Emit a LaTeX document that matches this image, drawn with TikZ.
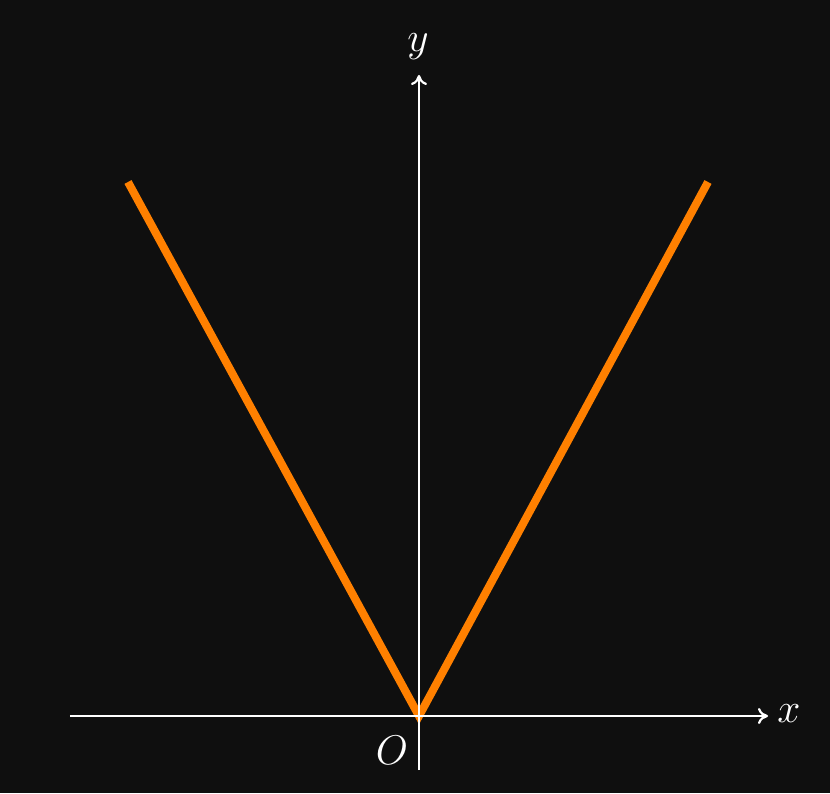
\documentclass[tikz,border=0pt]{standalone}
\usepackage{xcolor}
\definecolor{qbg}{HTML}{0F0F0F}
\definecolor{qorange}{HTML}{FF8000}
\usepackage{tikz}
\usetikzlibrary{arrows.meta,positioning}

\begin{document}
\begin{tikzpicture}[
  x=0.5pt,y=0.5pt,
  font=\fontsize{22}{26}\selectfont,
  axis/.style={draw=white,line width=1.1pt,-{To[length=5pt,width=8pt]}},
  graph/.style={draw=qorange,line width=4pt},
  lbl/.style={text=white,inner sep=0pt}
]
\fill[qbg] (-419,-77) rectangle (411,716);
\useasboundingbox (-419,-77) rectangle (411,716);
\coordinate (O) at (0,0);
\coordinate (left) at (-291,534);
\coordinate (right) at (289,534);
\coordinate (xs) at (-349,0);
\coordinate (xe) at (349,0);
\coordinate (ys) at (0,-54);
\coordinate (ye) at (0,641);
% graph
\draw[graph] (left) -- (O) -- (right);
% axes
\draw[axis] (xs) -- (xe);
\draw[axis] (ys) -- (ye);
\node[lbl] (xlbl) at (370,2) {$x$};
\node[lbl] (ylbl) at (-1,669) {$y$};
\node[lbl] (olbl) at (-27,-34) {$O$};
\end{tikzpicture}
\end{document}
